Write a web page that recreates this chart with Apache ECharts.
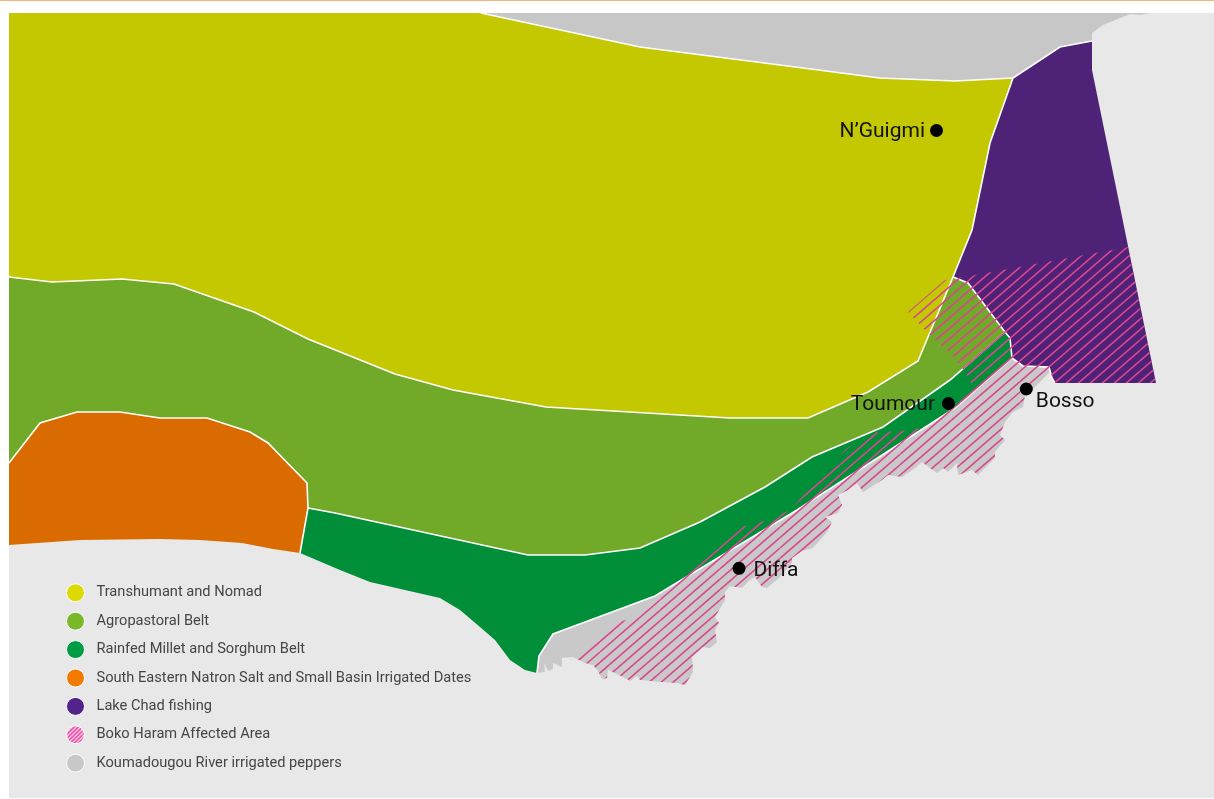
<!DOCTYPE html>
<html>
<head>
<meta charset="utf-8">
<title>Livelihood zones, Diffa</title>
<script src="https://cdn.jsdelivr.net/npm/echarts@6/dist/echarts.min.js"></script>
<style>
  html, body { margin: 0; background: #fff; }
  #main { width: 1214px; height: 799px; }
</style>
</head>
<body>
<div id="main"></div>
<script>
// 图例
const legendNames = ['Transhumant and Nomad', 'Agropastoral Belt', 'Rainfed Millet and Sorghum Belt',
  'South Eastern Natron Salt and Small Basin Irrigated Dates', 'Lake Chad fishing',
  'Boko Haram Affected Area', 'Koumadougou River irrigated peppers']
const legendColors = ['#dcda00', '#7ab829', '#009b45', '#f27a00', '#52248a', null, '#c8c8c8']

// 城镇
const townNames = ['N’Guigmi', 'Toumour', 'Bosso', 'Diffa']
const townPoints = [[936.5, 130.5], [948.5, 403.5], [1026.3, 389], [739, 568.3]]
const townLabelSides = ['left', 'left', 'right', 'right']
const townLabelGaps = [5, 7, 3, 8]
const townLabelDrop = [1, 1, 12.5, 2]

// 边界线，单位为地图坐标
const yellowNorth = [[481, 13], [640, 47], [780, 65], [880, 78], [955, 81], [1013, 78]]
const yellowLake = [[1013, 78], [990, 143], [972, 230], [953, 277]]
const yellowAgro = [[953, 277], [918, 361], [868, 392], [808, 418], [730, 418], [546, 407], [453, 390],
  [395, 374], [308, 339], [254, 312], [174, 284], [122, 279], [52, 282], [9, 277]]
const lakeNorth = [[1013, 78], [1060, 47], [1092, 41]]
const lakeEast = [[1092, 41], [1092, 70], [1156, 383], [1055, 383]]
const lakeSouth = [[1055, 383], [1052, 378], [1049, 367], [1023, 366], [1012, 358]]
const agroLake = [[953, 277], [968, 283], [1005, 332]]
const agroRainfed = [[1005, 332], [950, 380], [883, 427], [812, 457], [765, 487], [700, 522], [640, 548],
  [585, 555], [528, 555], [335, 513], [308, 508]]
const orangeNorth = [[308, 508], [307, 483], [268, 443], [250, 432], [207, 418], [160, 418], [120, 412],
  [77, 412], [40, 423], [9, 463]]
const orangeEast = [[308, 508], [300, 553]]
const orangeSouth = [[300, 553], [273, 549], [242, 543], [200, 540], [160, 539], [80, 540], [9, 545]]
const rainfedLake = [[1005, 332], [1010, 338], [1012, 358]]
const rainfedCoast = [[1012, 358], [955, 408], [797, 510], [655, 596], [553, 634], [539, 656], [537, 673]]
const rainfedSouth = [[537, 673], [525, 670], [510, 660], [495, 640], [480, 627], [460, 610], [440, 598],
  [370, 582], [340, 570], [300, 553]]
const riverNorthEnd = [[1092, 33], [1103, 25], [1130, 14], [1140, 15], [1150, 13]]
const coastWest = [[537, 673], [545, 672], [544, 663], [548, 671], [553, 669], [553, 663], [562, 667], [562, 658]]
const coastJagged = [[573, 657], [585, 663], [593, 665], [598, 671], [602, 679], [607, 678], [608, 670],
  [617, 674], [627, 679], [630, 681], [637, 676], [640, 680], [662, 682], [677, 683], [685, 685], [693, 672],
  [692, 657], [703, 647], [710, 648], [717, 642], [715, 630], [719, 623], [715, 617], [725, 600], [725, 592],
  [730, 586], [742, 588], [750, 580], [755, 577], [762, 587], [767, 588], [780, 577], [792, 563], [792, 558],
  [802, 551], [813, 548], [827, 532], [832, 522], [825, 517], [838, 513], [842, 505], [838, 495], [848, 490],
  [857, 483], [863, 492], [882, 480], [888, 475], [902, 477], [915, 468], [922, 462], [930, 468], [937, 473],
  [943, 468], [948, 472], [957, 463], [958, 475], [972, 470], [978, 475], [995, 458], [995, 452], [1005, 440],
  [1000, 435], [1005, 422], [1013, 412], [1023, 407], [1025, 395], [1032, 390], [1050, 372]]
const hatchNorth = [[1055, 383], [1156, 383], [1128, 247], [970, 276], [945, 280], [908, 312], [925, 330],
  [940, 345], [952, 355], [965, 372], [972, 385], [955, 407], [925, 427], [912, 430], [868, 433], [845, 450],
  [790, 510], [768, 520], [757, 523], [742, 527], [687, 575], [680, 578], [655, 596], [627, 620], [612, 623]]

// 斜线填充
function hatchPattern(w, h, count, phase, lineWidth, color, background) {
  const canvas = document.createElement('canvas')
  canvas.width = w
  canvas.height = h
  const ctx = canvas.getContext('2d')
  if (background) {
    ctx.fillStyle = background
    ctx.fillRect(0, 0, w, h)
  }
  ctx.strokeStyle = color
  ctx.lineWidth = lineWidth
  for (let i = -2; i <= 2 * count + 2; i++) {
    const c = phase + i * h / count
    ctx.beginPath()
    ctx.moveTo(0, c)
    ctx.lineTo(w, c - h)
    ctx.stroke()
  }
  return { image: canvas, repeat: 'repeat' }
}
const mapHatch = hatchPattern(60, 52, 5, 7.2, 1.6, '#dc4590')
const legendHatch = hatchPattern(16, 16, 4, 1, 1.7, '#e8389a', '#ffffff')

function regionSeries(name, points, color) {
  return {
    type: 'custom',
    name: name,
    coordinateSystem: 'cartesian2d',
    silent: true,
    itemStyle: { color: color },
    data: [[0, 0]],
    renderItem: function (params, api) {
      return {
        type: 'polygon',
        shape: { points: points.map(p => api.coord(p)) },
        style: { fill: color }
      }
    }
  }
}

const borderLines = [yellowNorth, yellowLake, yellowAgro, lakeNorth, lakeSouth, agroLake, agroRainfed,
  orangeNorth, orangeEast, rainfedLake, rainfedCoast]

let chart = echarts.init(document.querySelector('#main'))

let option = {
  animation: false,
  backgroundColor: '#fff',
  grid: { show: true, left: 9, top: 13, right: 0, bottom: 1, backgroundColor: '#e8e8e8', borderWidth: 0 },
  xAxis: { type: 'value', min: 9, max: 1214, show: false },
  yAxis: { type: 'value', min: 13, max: 798, inverse: true, show: false },

  graphic: [{
    type: 'rect',
    shape: { x: 0, y: 0, width: 1214, height: 1 },
    style: { fill: '#f6b57a' }
  }],

  legend: {
    left: 66,
    top: 583.3,
    orient: 'vertical',
    padding: 0,
    itemWidth: 18,
    itemHeight: 18,
    itemGap: 9.4,
    icon: 'circle',
    selectedMode: false,
    textStyle: { fontFamily: 'Roboto', fontSize: 14.64, color: '#454545', padding: [2, 0, 0, 7] },
    data: legendNames.map((name, i) => ({
      name: name,
      itemStyle: { color: legendColors[i] || legendHatch, borderColor: '#fff', borderWidth: 1 }
    }))
  },

  series: [
    regionSeries(legendNames[6], [[481, 13], ...yellowNorth, ...lakeNorth, ...riverNorthEnd], '#c7c7c7'),
    regionSeries(legendNames[6], [...rainfedCoast, ...coastWest, ...coastJagged, ...lakeSouth.slice(2)], '#c9c9c9'),
    regionSeries(legendNames[0], [[9, 13], ...yellowNorth, ...yellowLake, ...yellowAgro], '#c3c800'),
    regionSeries(legendNames[1], [...yellowAgro, ...orangeNorth.slice().reverse(), ...agroRainfed.slice().reverse(), ...agroLake], '#71a928'),
    regionSeries(legendNames[2], [...agroRainfed, ...orangeEast, ...rainfedSouth.slice().reverse(), ...rainfedCoast.slice().reverse(), ...rainfedLake.slice().reverse()], '#008e39'),
    regionSeries(legendNames[3], [...orangeNorth, ...orangeSouth.slice().reverse(), ...orangeEast.slice().reverse()], '#d96b00'),
    regionSeries(legendNames[4], [...lakeNorth, ...lakeEast, ...lakeSouth, ...rainfedLake.slice().reverse(), ...agroLake.slice().reverse(), ...yellowLake.slice().reverse()], '#4e2276'),
    // 白色边界
    {
      type: 'custom',
      coordinateSystem: 'cartesian2d',
      silent: true,
      data: borderLines.map((line, i) => [i, 0]),
      renderItem: function (params, api) {
        return {
          type: 'polyline',
          shape: { points: borderLines[params.dataIndex].map(p => api.coord(p)) },
          style: { fill: null, stroke: '#fff', lineWidth: 1.6 }
        }
      }
    },
    regionSeries(legendNames[5], [...coastJagged, ...hatchNorth], mapHatch),
    // 城镇
    {
      type: 'scatter',
      name: 'Towns',
      symbolSize: 13,
      itemStyle: { color: '#000', opacity: 1 },
      silent: true,
      data: townPoints.map((p, i) => ({
        value: p,
        label: {
          show: true,
          position: townLabelSides[i],
          distance: townLabelGaps[i],
          offset: [0, townLabelDrop[i]],
          formatter: townNames[i],
          fontFamily: 'Roboto',
          fontSize: 21,
          color: '#111'
        }
      }))
    }
  ]
}
chart.setOption(option)
</script>
</body>
</html>
